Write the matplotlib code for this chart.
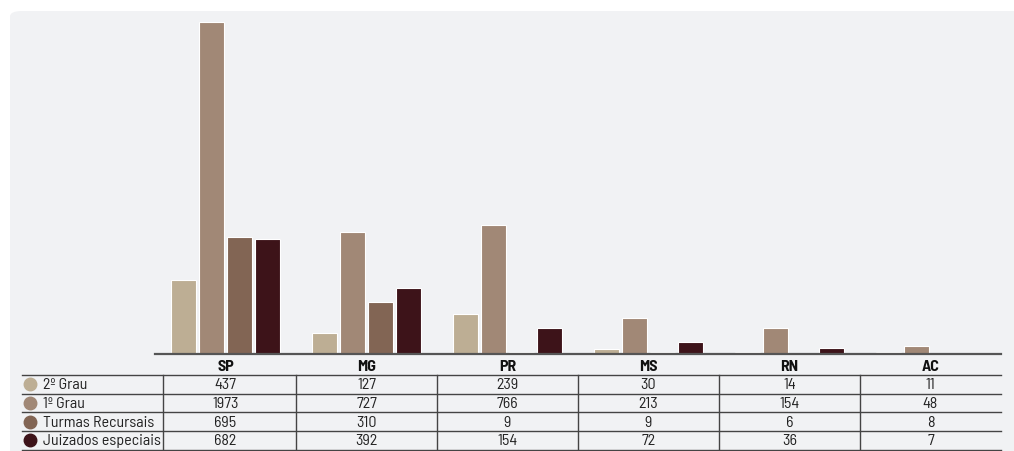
import matplotlib
matplotlib.use("Agg")
import matplotlib.pyplot as plt
import numpy as np
from matplotlib.lines import Line2D
from matplotlib.patches import FancyBboxPatch
from matplotlib.transforms import blended_transform_factory

# estados e séries
estados = ["SP", "MG", "PR", "MS", "RN", "AC"]
series = ["2º Grau", "1º Grau", "Turmas Recursais", "Juizados especiais"]
grau2 = [437, 127, 239, 30, 14, 11]
grau1 = [1973, 727, 766, 213, 154, 48]
turmas = [695, 310, 9, 9, 6, 8]
juizados = [682, 392, 154, 72, 36, 7]
valores = [grau2, grau1, turmas, juizados]
cores = ["#BDAE94", "#A18876", "#826554", "#3D1319"]

W, H = 1014, 452
fig = plt.figure(figsize=(W / 100, H / 100), dpi=100)
fig.patch.set_facecolor("white")

def fx(px):
    return px / W

def fy(py):
    return 1 - py / H

# painel cinza de fundo
painel = FancyBboxPatch((fx(10), fy(470)), fx(1030), fy(12) - fy(470),
                        boxstyle="round,pad=0,rounding_size=0.012",
                        transform=fig.transFigure, facecolor="#F1F2F4",
                        edgecolor="none", zorder=0)
fig.add_artist(painel)

ax = fig.add_axes([fx(155), fy(355), fx(1001) - fx(155), fy(12) - fy(355)])
ax.set_facecolor("none")
x = np.arange(len(estados))
passo = 0.2
largura = 0.175
for i, (vals, cor) in enumerate(zip(valores, cores)):
    ax.bar(x + (i - 1.5) * passo, vals, width=largura, color=cor,
           edgecolor="white", linewidth=0.8, zorder=2)
ax.set_xlim(-0.5, len(estados) - 0.5)
ax.set_ylim(0, 2038)
for s in ["top", "right", "left"]:
    ax.spines[s].set_visible(False)
ax.spines["bottom"].set_color("#555555")
ax.spines["bottom"].set_linewidth(1.6)
ax.set_xticks([])
ax.set_yticks([])

# tabela abaixo do gráfico
fonte = ["Barlow Semi Condensed", "Roboto Condensed", "DejaVu Sans"]
mix = blended_transform_factory(ax.transData, fig.transFigure)
linha_cor = "#444444"
tam = 11.5

for j, uf in enumerate(estados):
    fig.text(j, fy(367.5), uf, transform=mix, ha="center", va="center",
             fontsize=tam, fontweight="bold", family=fonte, color="#111111")

topo = 376
alt = 18.7
linhas_y = [topo + k * alt for k in range(len(series) + 1)]
for yy in linhas_y:
    fig.add_artist(Line2D([fx(22), fx(1001)], [fy(yy), fy(yy)],
                          transform=fig.transFigure, color=linha_cor, lw=1.0))

# divisões verticais das colunas
fig.add_artist(Line2D([fx(163), fx(163)], [fy(linhas_y[0]), fy(linhas_y[-1])],
                      transform=fig.transFigure, color=linha_cor, lw=1.0))
for j in range(1, len(estados)):
    fig.add_artist(Line2D([j - 0.5, j - 0.5], [fy(linhas_y[0]), fy(linhas_y[-1])],
                          transform=mix, color=linha_cor, lw=1.0))

for i, (nome, vals, cor) in enumerate(zip(series, valores, cores)):
    yc = fy(topo + (i + 0.5) * alt)
    fig.add_artist(Line2D([fx(30)], [yc], transform=fig.transFigure,
                          marker="o", markersize=9, color=cor, lw=0))
    fig.text(fx(43), yc, nome, ha="left", va="center", fontsize=tam,
             family=fonte, color="#222222")
    for j, v in enumerate(vals):
        fig.text(j, yc, str(v), transform=mix, ha="center", va="center",
                 fontsize=tam, family=fonte, color="#222222")

fig.savefig("out.png", dpi=100)
